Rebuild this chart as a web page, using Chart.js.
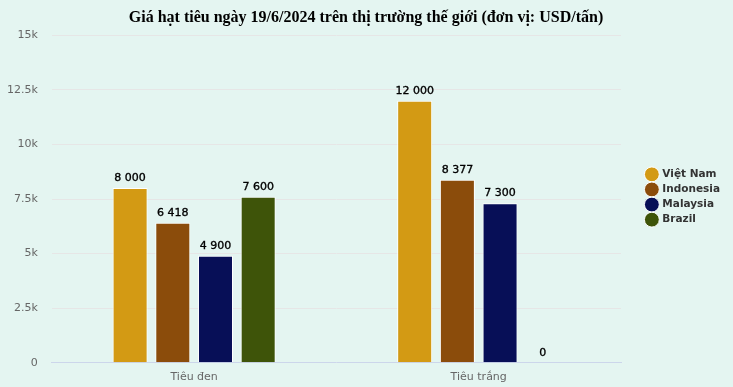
<!DOCTYPE html>
<html>
<head>
<meta charset="utf-8">
<script src="https://cdn.jsdelivr.net/npm/chart.js@4"></script>
<style>
  html, body { margin: 0; padding: 0; background: #e4f5f1; }
  #wrap { width: 733px; height: 387px; position: relative; }
</style>
</head>
<body>
<div id="wrap"><canvas id="chart"></canvas></div>
<script>
// Categories and series
const categories = ['Tiêu đen', 'Tiêu trắng'];
const vietNam = [8000, 12000];
const indonesia = [6418, 8377];
const malaysia = [4900, 7300];
const brazil = [7600, 0];

const seriesNames = ['Việt Nam', 'Indonesia', 'Malaysia', 'Brazil'];
const seriesColors = ['#d39a14', '#8b4c0b', '#070f57', '#3e5409'];

const fontFamily = '"DejaVu Sans", Verdana, sans-serif';

// Format numbers like "8 000"
function fmt(v) {
    return String(v).replace(/\B(?=(\d{3})+(?!\d))/g, ' ');
}

// Small inline plugin for value labels on top of bars
const valueLabels = {
    id: 'valueLabels',
    afterDatasetsDraw(chart) {
        const ctx = chart.ctx;
        ctx.save();
        ctx.font = '11px ' + fontFamily;
        ctx.fillStyle = '#000000';
        ctx.strokeStyle = '#000000';
        ctx.lineWidth = 0.35;
        ctx.textAlign = 'center';
        ctx.textBaseline = 'alphabetic';
        chart.data.datasets.forEach((ds, i) => {
            const meta = chart.getDatasetMeta(i);
            meta.data.forEach((bar, j) => {
                const txt = fmt(ds.data[j]);
                ctx.fillText(txt, bar.x, bar.y - 7);
                ctx.strokeText(txt, bar.x, bar.y - 7);
            });
        });
        ctx.restore();
    }
};

// Nudge legend and title into place after layout
const boxShift = {
    id: 'boxShift',
    afterLayout(chart) {
        const lg = chart.legend;
        if (lg) {
            lg.left += 21;
            lg.right += 21;
            lg.top += 1;
            lg.bottom += 1;
        }
        const tb = chart.titleBlock;
        if (tb) {
            tb.left += 15;
            tb.right += 15;
        }
    }
};

const datasets = [vietNam, indonesia, malaysia, brazil].map((data, i) => ({
    label: seriesNames[i],
    data: data,
    backgroundColor: seriesColors[i],
    borderColor: '#ffffff',
    borderWidth: 1,
    categoryPercentage: 0.6,
    barPercentage: 0.82
}));

new Chart(document.getElementById('chart'), {
    type: 'bar',
    data: { labels: categories, datasets: datasets },
    plugins: [valueLabels, boxShift],
    options: {
        responsive: true,
        maintainAspectRatio: false,
        animation: false,
        layout: { padding: { left: -7, right: 24, top: 8, bottom: 3 } },
        plugins: {
            title: {
                display: true,
                text: 'Giá hạt tiêu ngày 19/6/2024 trên thị trường thế giới (đơn vị: USD/tấn)',
                color: '#000000',
                font: { family: '"Liberation Serif", "Times New Roman", serif', size: 16, weight: 'bold' },
                padding: { top: 0, bottom: 8 }
            },
            legend: {
                position: 'right',
                labels: {
                    usePointStyle: true,
                    pointStyle: 'circle',
                    boxWidth: 11,
                    boxHeight: 11,
                    padding: 4.6,
                    color: '#333333',
                    font: { family: fontFamily, size: 10.5, weight: 'bold' }
                }
            },
            tooltip: { enabled: false }
        },
        scales: {
            x: {
                grid: { display: false },
                border: { color: '#ccd6eb' },
                ticks: { color: '#666666', padding: 0, font: { family: fontFamily, size: 11 } }
            },
            y: {
                min: 0,
                max: 15000,
                ticks: {
                    stepSize: 2500,
                    color: '#666666',
                    padding: 14,
                    font: { family: fontFamily, size: 11 },
                    callback: v => v === 0 ? '0' : (v / 1000) + 'k'
                },
                grid: { color: '#e6e6e6', drawTicks: false },
                border: { display: false }
            }
        }
    }
});
</script>
</body>
</html>
